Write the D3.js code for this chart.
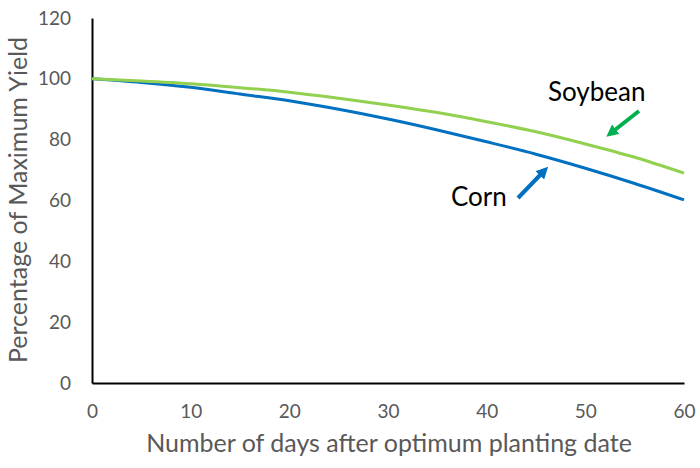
<!DOCTYPE html>
<html>
<head>
<meta charset="utf-8">
<script src="https://cdn.jsdelivr.net/npm/d3@7"></script>
<style>
  body { margin: 0; background: #fff; }
  text { font-family: Lato, "Open Sans", sans-serif; }
</style>
</head>
<body>
<script>
// data
const days = [0, 5, 10, 15, 20, 25, 30, 35, 40, 45, 50, 55, 60];
const corn = [100, 98.8, 97.2, 95.0, 92.8, 90.0, 86.8, 83.2, 79.3, 75.2, 70.6, 65.6, 60.2];
const soybean = [100, 99.3, 98.4, 97.1, 95.6, 93.6, 91.4, 88.9, 85.9, 82.6, 78.6, 74.2, 69.0];
const xTicks = [0, 10, 20, 30, 40, 50, 60];
const yTicks = [0, 20, 40, 60, 80, 100, 120];

let width = 700,
    height = 468;

let margin = { top: 18, right: 16, bottom: 85, left: 92 };

let svg = d3.select('body')
  .append('svg')
  .attr('width', width)
  .attr('height', height);

// Scales
let xScale = d3.scaleLinear()
  .domain([0, 60])
  .range([margin.left, width - margin.right]);

let yScale = d3.scaleLinear()
  .domain([0, 120])
  .range([height - margin.bottom, margin.top]);

// Axes
let xAxis = svg.append('g')
  .attr('transform', `translate(0, ${yScale(0)})`)
  .call(d3.axisBottom(xScale).tickValues(xTicks).tickSize(0).tickPadding(22));

let yAxis = svg.append('g')
  .attr('transform', `translate(${xScale(0)}, 0)`)
  .call(d3.axisLeft(yScale).tickValues(yTicks).tickSize(0).tickPadding(21));

[xAxis, yAxis].forEach(ax => {
  ax.select('.domain').attr('stroke', '#000').attr('stroke-width', 2);
  ax.selectAll('text')
    .style('font-size', '19px')
    .style('font-family', 'Lato, sans-serif')
    .attr('fill', '#595959');
});

// Axis titles
svg.append('text')
  .attr('x', 389)
  .attr('y', 452)
  .attr('text-anchor', 'middle')
  .style('font-size', '25px')
  .attr('fill', '#595959')
  .text('Number of days after optimum planting date');

svg.append('text')
  .attr('transform', 'rotate(-90)')
  .attr('x', -200)
  .attr('y', 27)
  .attr('text-anchor', 'middle')
  .style('font-size', '25px')
  .attr('fill', '#595959')
  .text('Percentage of Maximum Yield');

// Lines
let line = d3.line()
  .x((d, i) => xScale(days[i]))
  .y(d => yScale(d))
  .curve(d3.curveMonotoneX);

svg.append('path')
  .datum(corn)
  .attr('d', line)
  .attr('fill', 'none')
  .attr('stroke', '#0070C0')
  .attr('stroke-width', 3);

svg.append('path')
  .datum(soybean)
  .attr('d', line)
  .attr('fill', 'none')
  .attr('stroke', '#92D050')
  .attr('stroke-width', 3);

// Arrow heads
let defs = svg.append('defs');
[['arrGreen', '#00B050'], ['arrBlue', '#0070C0']].forEach(([id, c]) => {
  defs.append('marker')
    .attr('id', id)
    .attr('viewBox', '0 0 10 10')
    .attr('refX', 5).attr('refY', 5)
    .attr('markerWidth', 3).attr('markerHeight', 3)
    .attr('orient', 'auto')
    .append('path')
    .attr('d', 'M0,0 L10,5 L0,10 Z')
    .attr('fill', c);
});

// Annotations
svg.append('text')
  .attr('x', 548)
  .attr('y', 101)
  .style('font-size', '26px')
  .attr('fill', '#000')
  .text('Soybean');

svg.append('line')
  .attr('x1', 639).attr('y1', 111)
  .attr('x2', 611).attr('y2', 133)
  .attr('stroke', '#00B050')
  .attr('stroke-width', 4)
  .attr('marker-end', 'url(#arrGreen)');

svg.append('text')
  .attr('x', 451)
  .attr('y', 206)
  .style('font-size', '26px')
  .attr('fill', '#000')
  .text('Corn');

svg.append('line')
  .attr('x1', 518).attr('y1', 198)
  .attr('x2', 544).attr('y2', 171)
  .attr('stroke', '#0070C0')
  .attr('stroke-width', 4)
  .attr('marker-end', 'url(#arrBlue)');
</script>
</body>
</html>
